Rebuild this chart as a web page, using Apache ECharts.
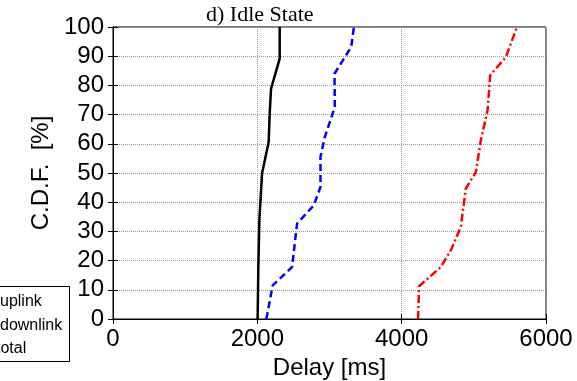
<!DOCTYPE html>
<html>
<head>
<meta charset="utf-8">
<script src="https://cdn.jsdelivr.net/npm/echarts@6/dist/echarts.min.js"></script>
<style>
  html, body { margin: 0; padding: 0; background: #fff; }
  #chart { width: 577px; height: 381px; }
</style>
</head>
<body>
<div id="chart"></div>
<script>
// CDF curves (delay in ms, cdf in %)
const uplinkDelay = [2004, 2014, 2028, 2065, 2157, 2171, 2190, 2310, 2310]
const uplinkCdf = [0, 17.8, 33.8, 49.8, 60.6, 70.3, 78.9, 89.2, 100]

const downlinkDelay = [2125, 2213, 2481, 2551, 2782, 2875, 2875, 2935, 3074, 3069, 3301, 3338]
const downlinkCdf = [0, 11.5, 17.8, 32.7, 38.9, 45.2, 55.5, 62.3, 72.6, 84.0, 93.2, 100]

const totalDelay = [4227, 4241, 4542, 4681, 4819, 4889, 5028, 5097, 5190, 5227, 5444, 5597]
const totalCdf = [0, 11.2, 17.8, 23.5, 31.5, 44.7, 50.3, 61.2, 71.5, 83.5, 89.7, 100]

const legendNames = ['uplink', 'downlink', 'total']

const zip = (xs, ys) => xs.map((x, i) => [x, ys[i]])

const chart = echarts.init(document.getElementById('chart'))

const labelFont = { fontFamily: 'Liberation Sans', fontSize: 24, color: '#000' }
const gridLine = { show: true, lineStyle: { color: '#999', type: 'dotted', width: 1 } }
const legendFont = '16px "Liberation Sans"'

chart.setOption({
  animation: false,
  title: {
    text: 'd) Idle State',
    left: 201,
    top: -1,
    textStyle: { fontFamily: 'Liberation Serif', fontSize: 22, fontWeight: 'normal', color: '#000' },
  },
  grid: {
    left: 113, right: 31, top: 27, bottom: 62, outerBoundsMode: 'none',
    show: true, borderColor: '#000', borderWidth: 1,
  },
  xAxis: [
    {
      type: 'value', min: 0, max: 6000, interval: 2000,
      name: 'Delay [ms]', nameLocation: 'middle', nameGap: 37,
      nameTextStyle: labelFont,
      axisLine: { lineStyle: { color: '#000', width: 1 } },
      axisTick: { inside: true, length: 5, lineStyle: { color: '#000' } },
      axisLabel: { ...labelFont, margin: 8, formatter: v => String(v) },
      splitLine: gridLine,
    },
    {
      type: 'value', min: 0, max: 6000, interval: 2000, position: 'top',
      axisLine: { lineStyle: { color: '#000' } },
      axisTick: { inside: true, length: 5, lineStyle: { color: '#000' } },
      axisLabel: { show: false }, splitLine: { show: false },
    },
  ],
  yAxis: [
    {
      type: 'value', min: 0, max: 100, interval: 10,
      name: 'C.D.F.  [%]', nameLocation: 'middle', nameGap: 60,
      nameTextStyle: labelFont,
      axisLine: { show: true, lineStyle: { color: '#000' } },
      axisTick: { show: true, inside: true, length: 5, lineStyle: { color: '#000' } },
      axisLabel: { ...labelFont, margin: 9 },
      splitLine: gridLine,
    },
    {
      type: 'value', min: 0, max: 100, interval: 10, position: 'right',
      axisLine: { show: true, lineStyle: { color: '#000' } },
      axisTick: { show: true, inside: true, length: 5, lineStyle: { color: '#000' } },
      axisLabel: { show: false }, splitLine: { show: false },
    },
  ],
  series: [
    {
      name: legendNames[0], type: 'line', data: zip(uplinkDelay, uplinkCdf),
      showSymbol: false, lineStyle: { color: '#000', width: 2.5 },
    },
    {
      name: legendNames[1], type: 'line', data: zip(downlinkDelay, downlinkCdf),
      showSymbol: false, lineStyle: { color: '#0000ff', width: 2.5, type: [7, 4] },
    },
    {
      name: legendNames[2], type: 'line', data: zip(totalDelay, totalCdf),
      showSymbol: false, lineStyle: { color: '#ff0000', width: 2.5, type: [8, 3, 2, 3] },
    },
  ],
  // legend box is cut off by the left edge in the reference
  graphic: [
    { type: 'rect', left: -10, top: 286, shape: { width: 79, height: 75 }, style: { fill: '#fff', stroke: '#000', lineWidth: 1 } },
    { type: 'text', x: 0, y: 294, style: { text: legendNames[0], font: legendFont, fill: '#000' } },
    { type: 'text', x: 0, y: 318, style: { text: legendNames[1], font: legendFont, fill: '#000' } },
    { type: 'text', x: -4, y: 341, style: { text: legendNames[2], font: legendFont, fill: '#000' } },
  ],
})
</script>
</body>
</html>
